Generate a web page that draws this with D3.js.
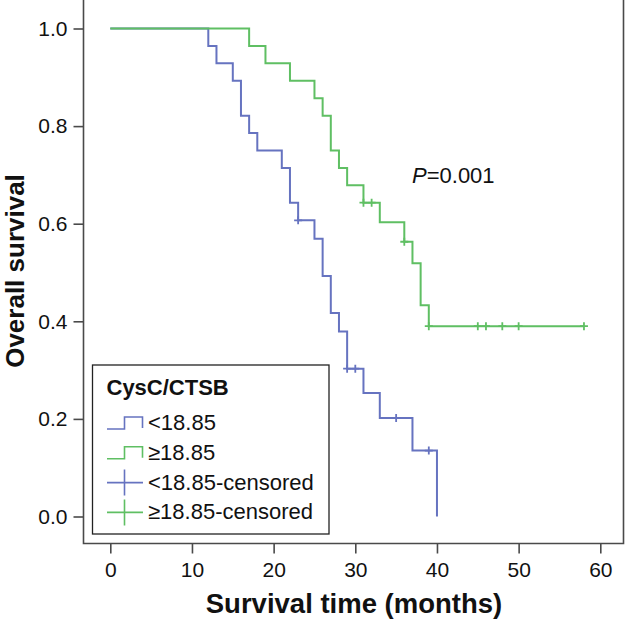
<!DOCTYPE html>
<html>
<head>
<meta charset="utf-8">
<script src="https://cdn.jsdelivr.net/npm/d3@7"></script>
<style>
  html, body { margin: 0; padding: 0; background: #fff; }
  svg { display: block; font-family: "Liberation Sans", Arial, Helvetica, sans-serif; }
</style>
</head>
<body>
<svg id="chart" width="628" height="621"></svg>
<script>
// ---- Data ----
const groupNames = ["<18.85", "\u226518.85"];
const censorNames = ["<18.85-censored", "\u226518.85-censored"];
const legendTitle = "CysC/CTSB";

const lowTimes = [0, 12, 13, 15, 16, 17, 18, 21, 22, 23, 25, 26, 27, 28, 29, 31, 33, 37, 40];
const lowSurv  = [1, 0.964, 0.929, 0.893, 0.821, 0.786, 0.750, 0.714, 0.643, 0.607, 0.569, 0.493, 0.417, 0.379, 0.303, 0.253, 0.202, 0.135, 0];
const lowCensor = [23, 29, 30, 35, 39];
const lowEnd = 40;

const highTimes = [0, 17, 19, 22, 25, 26, 27, 28, 29, 31, 33, 36, 37, 38, 39];
const highSurv  = [1, 0.964, 0.929, 0.893, 0.857, 0.821, 0.750, 0.714, 0.679, 0.643, 0.603, 0.563, 0.519, 0.433, 0.390];
const highCensor = [31, 32, 36, 39, 45, 46, 48, 50, 58];
const highEnd = 58;

const xTicks = [0, 10, 20, 30, 40, 50, 60];
const yTicks = [0, 0.2, 0.4, 0.6, 0.8, 1.0];
const pText = "=0.001";

// ---- Layout ----
const colors = ["#6673c0", "#5fbf63"];
const frame = { left: 83.5, right: 623.5, top: 0, bottom: 543.5 };

const x = d3.scaleLinear().domain([0, 60]).range([110.3, 600.3]);
const y = d3.scaleLinear().domain([0, 1]).range([516.5, 28.5]);

const svg = d3.select("#chart");

// frame (left, bottom, right)
svg.append("path")
  .attr("d", `M${frame.left},${frame.top}V${frame.bottom}H${frame.right}V${frame.top}`)
  .attr("fill", "none").attr("stroke", "#4a4a4a").attr("stroke-width", 1.6);

// axes
const yAxis = d3.axisLeft(y).tickValues(yTicks).tickFormat(d3.format(".1f")).tickSize(10).tickPadding(6);
const gy = svg.append("g").attr("transform", `translate(${frame.left},0)`).call(yAxis);
gy.select(".domain").remove();
gy.selectAll(".tick line").attr("stroke", "#4a4a4a").attr("stroke-width", 1.6);
gy.selectAll(".tick text").attr("font-size", 21).attr("fill", "#111").attr("font-family", "Liberation Sans, Arial, sans-serif");

const xAxis = d3.axisBottom(x).tickValues(xTicks).tickFormat(d3.format("d")).tickSize(10).tickPadding(9);
const gx = svg.append("g").attr("transform", `translate(0,${frame.bottom})`).call(xAxis);
gx.select(".domain").remove();
gx.selectAll(".tick line").attr("stroke", "#4a4a4a").attr("stroke-width", 1.6);
gx.selectAll(".tick text").attr("font-size", 21).attr("fill", "#111").attr("font-family", "Liberation Sans, Arial, sans-serif");

// axis titles
svg.append("text")
  .attr("x", 354).attr("y", 613)
  .attr("text-anchor", "middle").attr("font-size", 27.5).attr("font-weight", "bold").attr("fill", "#111")
  .text("Survival time (months)");
svg.append("text")
  .attr("transform", "translate(24,271) rotate(-90)")
  .attr("text-anchor", "middle").attr("font-size", 26).attr("font-weight", "bold").attr("fill", "#111")
  .text("Overall survival");

// survival curves
function stepPoints(times, surv, end) {
  const pts = times.map((t, i) => [t, surv[i]]);
  if (end > times[times.length - 1]) pts.push([end, surv[surv.length - 1]]);
  return pts;
}
function survAt(times, surv, t) {
  let s = surv[0];
  for (let i = 0; i < times.length; i++) if (times[i] <= t) s = surv[i];
  return s;
}
const line = d3.line().x(d => x(d[0])).y(d => y(d[1])).curve(d3.curveStepAfter);

const groups = [
  { times: lowTimes, surv: lowSurv, censor: lowCensor, end: lowEnd, color: colors[0] },
  { times: highTimes, surv: highSurv, censor: highCensor, end: highEnd, color: colors[1] }
];

groups.forEach(g => {
  svg.append("path")
    .attr("d", line(stepPoints(g.times, g.surv, g.end)))
    .attr("fill", "none").attr("stroke", g.color).attr("stroke-width", 2);
  const cs = 4;
  svg.append("g").selectAll("path").data(g.censor).join("path")
    .attr("d", t => {
      const cx = x(t), cy = y(survAt(g.times, g.surv, t));
      return `M${cx - cs},${cy}H${cx + cs}M${cx},${cy - cs}V${cy + cs}`;
    })
    .attr("stroke", g.color).attr("stroke-width", 1.8).attr("fill", "none");
});

// P-value
const pt = svg.append("text").attr("x", 412).attr("y", 183).attr("font-size", 22).attr("fill", "#111");
pt.append("tspan").attr("font-style", "italic").text("P");
pt.append("tspan").text(pText);

// legend
const lg = { x: 92.5, y: 365, w: 236.5, h: 169 };
svg.append("rect").attr("x", lg.x).attr("y", lg.y).attr("width", lg.w).attr("height", lg.h)
  .attr("fill", "#fff").attr("stroke", "#222").attr("stroke-width", 1.3);
svg.append("text").attr("x", 106.5).attr("y", 395).attr("font-size", 22).attr("font-weight", "bold").attr("fill", "#111")
  .text(legendTitle);

const items = [
  { label: groupNames[0], color: colors[0], type: "step" },
  { label: groupNames[1], color: colors[1], type: "step" },
  { label: censorNames[0], color: colors[0], type: "cross" },
  { label: censorNames[1], color: colors[1], type: "cross" }
];
items.forEach((it, i) => {
  const base = 430 + i * 29.8;
  const cy = base - 7;
  if (it.type === "step") {
    svg.append("path")
      .attr("d", `M107,${cy + 6}H124.5V${cy - 6}H142.5V${cy + 5}`)
      .attr("fill", "none").attr("stroke", it.color).attr("stroke-width", 1.6);
  } else {
    svg.append("path")
      .attr("d", `M107,${cy}H143M124.5,${cy - 13}V${cy + 13}`)
      .attr("fill", "none").attr("stroke", it.color).attr("stroke-width", 1.6);
  }
  svg.append("text").attr("x", 148).attr("y", base).attr("font-size", 22).attr("fill", "#111").text(it.label);
});
</script>
</body>
</html>
